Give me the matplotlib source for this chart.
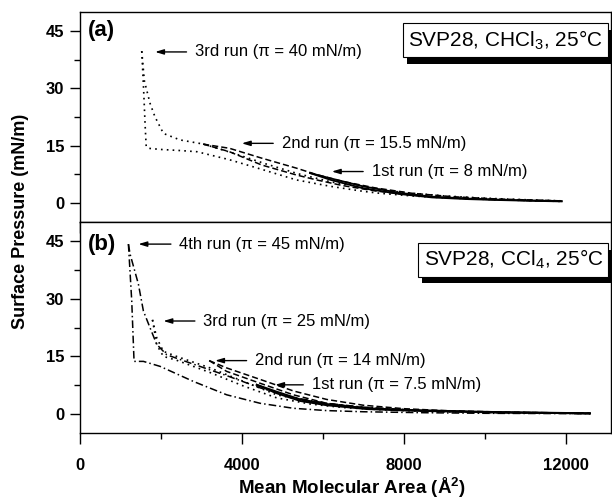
import numpy as np
import matplotlib
matplotlib.use("Agg")
import matplotlib.pyplot as plt
import matplotlib.patheffects as pe
from matplotlib.ticker import MultipleLocator

plt.rcParams['font.family'] = ['Liberation Sans', 'DejaVu Sans']
plt.rcParams['mathtext.fontset'] = 'custom'
plt.rcParams['mathtext.rm'] = 'Liberation Sans'
plt.rcParams['mathtext.default'] = 'regular'

# ---- panel (a): SVP28 in CHCl3 ----
a1_x = [5690, 6200, 7000, 7900, 8700, 9600, 10400, 11200, 11900]
a1_up = [7.8, 6.4, 4.3, 2.6, 1.6, 1.1, 0.8, 0.6, 0.45]
a1_dn = [7.8, 6.0, 3.8, 2.3, 1.4, 0.95, 0.7, 0.5, 0.35]

a2_x = [3050, 3700, 4500, 5350, 5850, 6500, 7300, 8200, 9200, 10300, 11200, 11900]
a2_up = [15.4, 14.3, 11.7, 9.1, 7.4, 5.6, 3.9, 2.5, 1.6, 1.0, 0.7, 0.5]
a2_dn = [15.4, 13.4, 9.9, 7.3, 6.0, 4.5, 3.1, 2.0, 1.3, 0.8, 0.55, 0.4]

a3c_x = [1535, 1600, 1740, 1860, 2070, 2480, 3060, 3800, 4600, 5400, 6200, 7000, 8000, 9000, 10000, 11000, 11900]
a3c_y = [39.8, 32, 26.1, 22.6, 18.2, 16.5, 15.4, 13.0, 10.2, 7.6, 5.5, 4.0, 2.7, 1.8, 1.2, 0.8, 0.5]
a3e_x = [1535, 1580, 1620, 1645, 1700, 2000, 2500, 2900, 3700, 4550, 5350, 6200, 7000, 7400, 8200, 9000, 10000, 11000, 11900]
a3e_y = [39.8, 30, 20, 14.8, 14.3, 14.0, 13.7, 13.4, 11.3, 8.6, 6.0, 4.3, 3.0, 2.5, 1.8, 1.3, 0.9, 0.6, 0.35]

# ---- panel (b): SVP28 in CCl4 ----
b1_x = [4375, 4870, 5450, 6100, 7090, 8000, 8735, 9500, 10380, 11500, 12600]
b1_up = [7.6, 5.8, 3.8, 2.6, 1.5, 1.1, 0.9, 0.7, 0.5, 0.35, 0.2]
b1_dn = [7.6, 5.4, 3.4, 2.3, 1.3, 0.95, 0.75, 0.6, 0.4, 0.3, 0.15]

b2_x = [3200, 3630, 4460, 5280, 6100, 7000, 8000, 9000, 10500, 12600]
b2_up = [13.9, 12.0, 9.0, 6.0, 3.8, 2.3, 1.4, 0.9, 0.5, 0.2]
b2_dn = [13.9, 11.1, 8.0, 5.0, 2.8, 1.7, 1.0, 0.7, 0.4, 0.15]

b3_x = [1800, 1906, 2069, 2394, 3222, 4045, 4868, 5700, 6500, 7500, 8500, 10000, 12600]
b3_up = [24.5, 19.8, 16.3, 15.0, 12.0, 8.5, 5.0, 3.2, 2.1, 1.3, 0.9, 0.5, 0.2]
b3_dn = [24.5, 18.0, 15.0, 14.0, 10.8, 7.3, 4.2, 2.6, 1.7, 1.1, 0.7, 0.4, 0.15]

b4c_x = [1206, 1247, 1452, 1576, 1741, 1906, 2153, 2806, 3630, 4460, 5280, 6100, 7000, 8500, 10000, 12600]
b4c_y = [44.2, 41.6, 33.8, 26.8, 22.4, 18.1, 15.4, 13.0, 10.0, 6.8, 4.3, 2.8, 1.8, 0.9, 0.5, 0.15]
b4e_x = [1206, 1288, 1345, 1576, 1988, 2806, 3634, 4457, 5279, 6100, 7000, 8500, 10000, 12600]
b4e_y = [44.2, 29.4, 13.7, 13.7, 12.4, 8.5, 5.0, 2.8, 1.5, 0.9, 0.6, 0.35, 0.2, 0.1]

# run labels: (text, arrow tip x, tip y, text x)
a_labels = [("3rd run (\u03c0 = 40 mN/m)", 1864, 39.6, 2850),
            ("2nd run (\u03c0 = 15.5 mN/m)", 4004, 15.6, 4990),
            ("1st run (\u03c0 = 8 mN/m)", 6226, 8.2, 7210)]
b_labels = [("4th run (\u03c0 = 45 mN/m)", 1452, 44.2, 2465),
            ("3rd run (\u03c0 = 25 mN/m)", 2069, 24.2, 3057),
            ("2nd run (\u03c0 = 14 mN/m)", 3345, 13.9, 4333),
            ("1st run (\u03c0 = 7.5 mN/m)", 4827, 7.6, 5733)]

fig = plt.figure(figsize=(6.12, 4.99), dpi=100)
axa = fig.add_axes([0.130, 0.5555, 0.8685, 0.4198])
axb = fig.add_axes([0.130, 0.1317, 0.8685, 0.4238])

dot = (0, (1, 2.5))
dash = (0, (4, 2))
dashdot = (0, (5, 2, 1, 2))

axa.plot(a1_x, a1_up, color='k', lw=1.3, ls='-')
axa.plot(a1_x, a1_dn, color='k', lw=1.3, ls='-')
axa.plot(a2_x, a2_up, color='k', lw=1.1, ls=dash)
axa.plot(a2_x, a2_dn, color='k', lw=1.1, ls=dash)
axa.plot(a3c_x, a3c_y, color='k', lw=1.2, ls=dot)
axa.plot(a3e_x, a3e_y, color='k', lw=1.2, ls=dot)

axb.plot(b1_x, b1_up, color='k', lw=1.4, ls='-')
axb.plot(b1_x, b1_dn, color='k', lw=1.4, ls='-')
axb.plot(b2_x, b2_up, color='k', lw=1.1, ls=dash)
axb.plot(b2_x, b2_dn, color='k', lw=1.1, ls=dash)
axb.plot(b3_x, b3_up, color='k', lw=1.2, ls=dot)
axb.plot(b3_x, b3_dn, color='k', lw=1.2, ls=dot)
axb.plot(b4c_x, b4c_y, color='k', lw=1.1, ls=dashdot)
axb.plot(b4e_x, b4e_y, color='k', lw=1.1, ls=dashdot)

for ax, labels in [(axa, a_labels), (axb, b_labels)]:
    for txt, tx, ty, lx in labels:
        ax.annotate("", xy=(tx, ty), xytext=(lx - 210, ty),
                    arrowprops=dict(arrowstyle='-|>,head_length=0.5,head_width=0.15',
                                    color='k', lw=1, shrinkA=0, shrinkB=0))
        ax.text(lx, ty, txt, fontsize=12, va='center', ha='left')

for ax in (axa, axb):
    ax.set_xlim(0, 13120)
    ax.set_ylim(-5, 50)
    ax.set_yticks([0, 15, 30, 45])
    ax.yaxis.set_minor_locator(MultipleLocator(7.5))
    ax.set_xticks([0, 4000, 8000, 12000])
    ax.xaxis.set_minor_locator(MultipleLocator(2000))
    ax.tick_params(which='major', direction='out', length=7, width=1, labelsize=12, pad=4)
    ax.tick_params(which='minor', direction='out', length=4, width=1)
    ax.tick_params(axis='x', which='major', length=8, pad=10)
    for lab in ax.get_yticklabels() + ax.get_xticklabels():
        lab.set_fontweight('bold')
    for sp in ax.spines.values():
        sp.set_linewidth(1)

axa.tick_params(axis='x', labelbottom=False)

axa.text(0.016, 0.915, "(a)", transform=axa.transAxes, fontsize=16, fontweight='bold', va='center')
axb.text(0.016, 0.892, "(b)", transform=axb.transAxes, fontsize=16, fontweight='bold', va='center')

for ax, txt, yy in [(axa, "SVP28, CHCl$_3$, 25\u00b0C", 0.868), (axb, "SVP28, CCl$_4$, 25\u00b0C", 0.821)]:
    t = ax.text(0.985, yy, txt, transform=ax.transAxes, fontsize=15, ha='right', va='center',
                bbox=dict(boxstyle='square,pad=0.25', fc='white', ec='k', lw=0.8))
    t.get_bbox_patch().set_path_effects([pe.SimplePatchShadow(offset=(3, -5), shadow_rgbFace='k', alpha=1),
                                          pe.Normal()])

fig.text(352 / 612, 1 - 488 / 499, "Mean Molecular Area (\u00c5$^2$)", fontsize=13.5, fontweight='bold',
         ha='center', va='center')
fig.text(0.034, 0.5555, "Surface Pressure (mN/m)", rotation=90, fontsize=13, fontweight='bold',
         ha='center', va='center')

fig.savefig("out.png", dpi=100)
